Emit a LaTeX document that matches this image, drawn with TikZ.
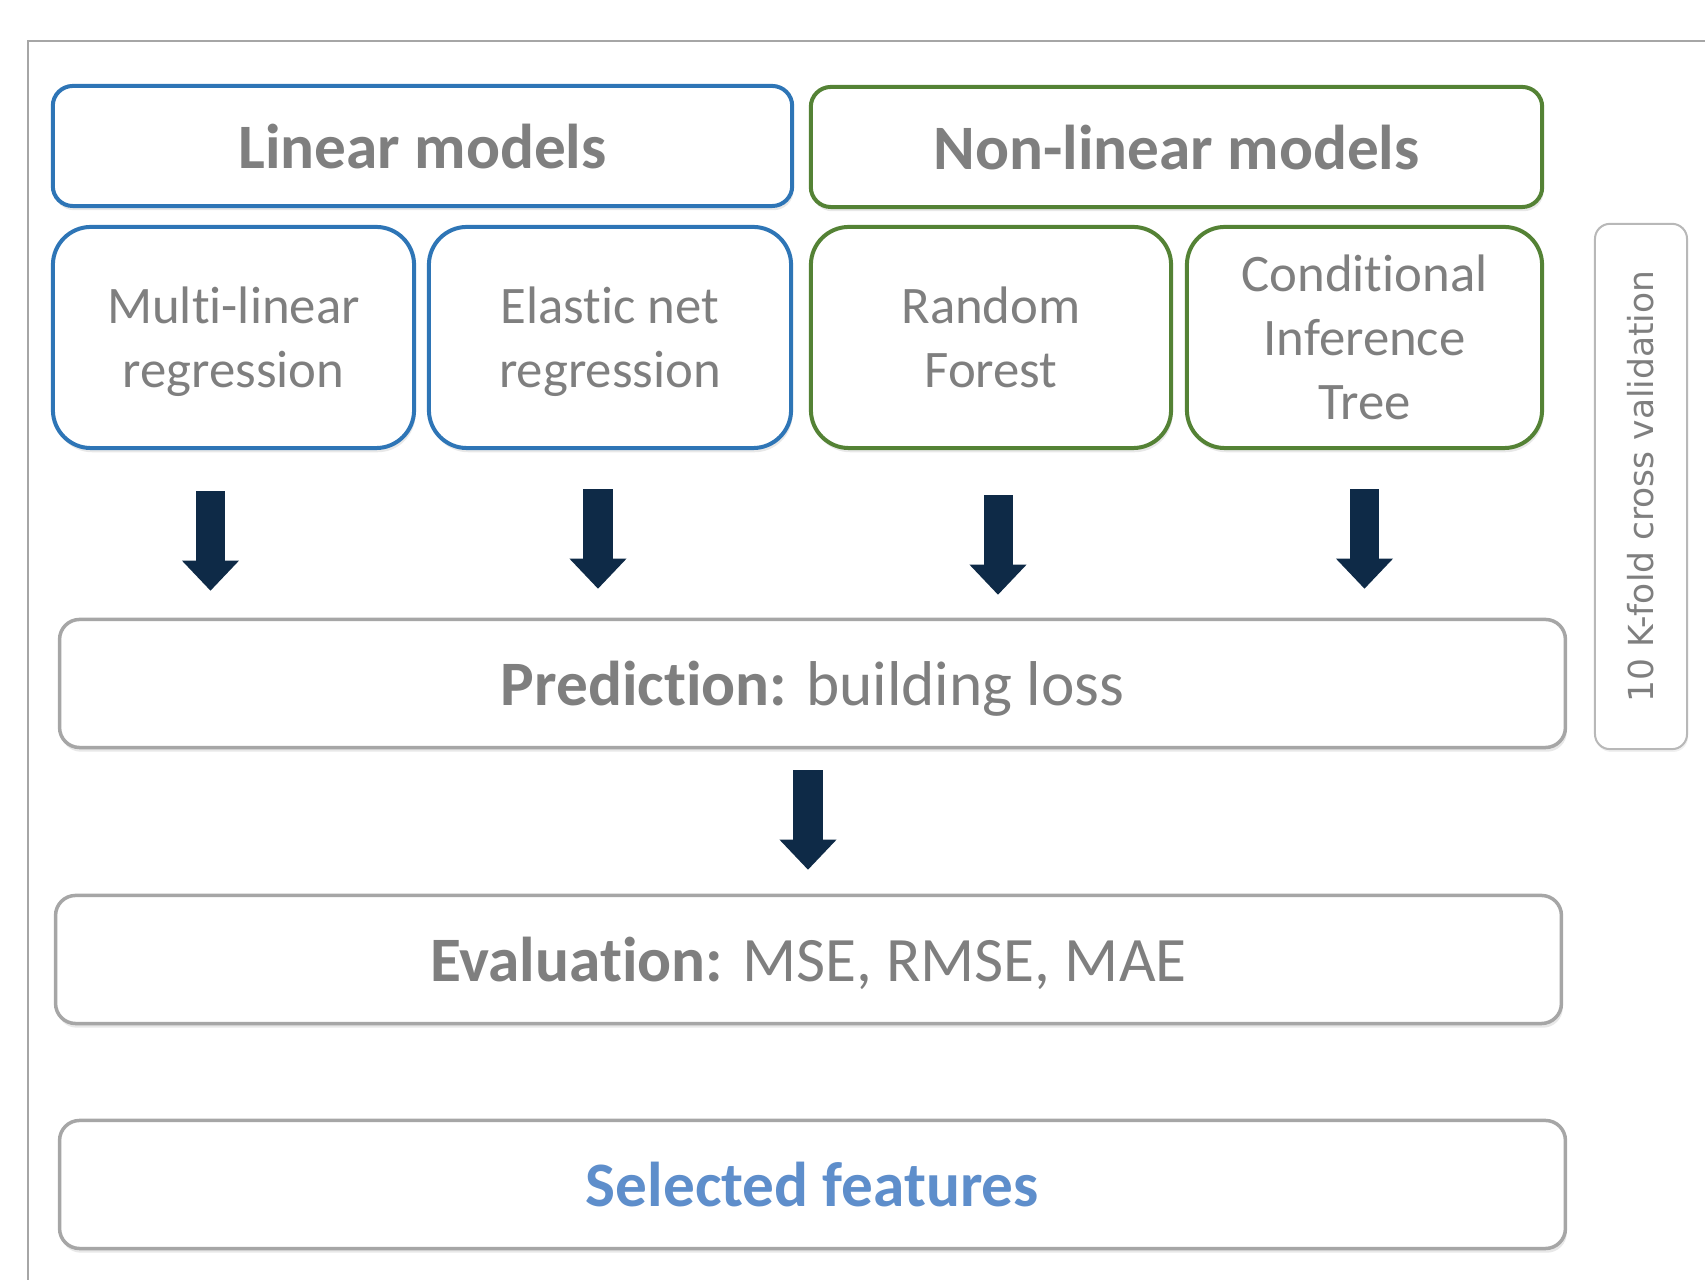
\documentclass[tikz,border=0pt]{standalone}
\usepackage{fontspec}
\setmainfont{Carlito}[Ligatures={NoCommon}]
\newfontfamily\kfoldfont{DejaVu Sans}
\usepackage{tikz}
\usetikzlibrary{arrows.meta,shadows}

\definecolor{linblue}{HTML}{2E75B6}
\definecolor{nlgreen}{HTML}{548235}
\definecolor{boxgray}{HTML}{A6A6A6}
\definecolor{txtgray}{HTML}{7F7F7F}
\definecolor{selblue}{HTML}{5E8ECB}
\definecolor{arrownavy}{HTML}{0E2A47}

\begin{document}
\begin{tikzpicture}[x=0.01cm,y=-0.01cm,
		box/.style={draw,rounded corners=0.2cm,line width=0.04cm,fill=white,text=txtgray,align=center,
			drop shadow={shadow xshift=0.4pt,shadow yshift=-1.2pt,opacity=0.18}},
		modelbox/.style={box,rounded corners=0.38cm,minimum height=2.21cm,text depth=-3pt,
			font=\fontsize{15}{18.2}\selectfont},
		headbox/.style={box,minimum height=1.2cm,text height=12.6pt,text depth=0pt,
			font=\fontsize{18}{22}\selectfont\bfseries},
		stagebox/.style={box,draw=boxgray,line width=0.035cm,minimum width=15.05cm,minimum height=1.28cm,
			text height=12.6pt,text depth=0pt,font=\fontsize{18}{22}\selectfont},
		kbox/.style={draw=boxgray!80,rounded corners=0.15cm,line width=0.02cm,fill=white,text=txtgray,
			drop shadow={shadow xshift=0.3pt,shadow yshift=-0.8pt,opacity=0.12},
			font=\kfoldfont\fontsize{9.8}{11}\selectfont},
		blockarrow/.style={draw=arrownavy,line width=0.29cm,
			-{Triangle[width=0.57cm,length=0.30cm,line width=0pt]}}]

		\useasboundingbox (0,0) rectangle (1705,1280);
		\draw[boxgray,line width=0.02cm] (28,1280) -- (28,41) -- (1705,41);

		\node[headbox,draw=linblue,minimum width=7.39cm] (Linear) at (422.5,146) {Linear models};
		\node[headbox,draw=nlgreen,minimum width=7.31cm] (NonLinear) at (1176.5,147) {Non-linear models};

		\node[modelbox,draw=linblue,minimum width=3.61cm] (MLR) at (233.5,337.5) {Multi-linear\\regression};
		\node[modelbox,draw=linblue,minimum width=3.62cm] (ENR) at (610,337.5) {Elastic net\\regression};
		\node[modelbox,draw=nlgreen,minimum width=3.60cm] (RF) at (991,337.5) {Random\\Forest};
		\node[modelbox,draw=nlgreen,minimum width=3.55cm] (CIT) at (1364.5,337.5) {Conditional\\Inference\\Tree};

		\node[kbox,rotate=90,minimum width=5.25cm,minimum height=0.92cm] (KFold) at (1641,486.5) {10 K-fold cross validation};

		\node[stagebox] (Pred) at (812.5,683.5) {\textbf{Prediction:} building loss};
		\node[stagebox] (Eval) at (808.5,959.5) {\textbf{Evaluation:} MSE, RMSE, MAE};
		\node[stagebox,text=selblue] (Sel) at (812.5,1184.5) {\textbf{Selected features}};

		\draw[blockarrow,shorten <=0.41cm,shorten >=0.27cm] ([xshift=-0.23cm]MLR.south) -- ([xshift=-0.23cm]MLR.south |- Pred.north);
		\draw[blockarrow,shorten <=0.39cm,shorten >=0.29cm] ([xshift=-0.12cm]ENR.south) -- ([xshift=-0.12cm]ENR.south |- Pred.north);
		\draw[blockarrow,shorten <=0.45cm,shorten >=0.23cm] ([xshift=0.07cm]RF.south) -- ([xshift=0.07cm]RF.south |- Pred.north);
		\draw[blockarrow,shorten <=0.39cm,shorten >=0.29cm] (CIT.south) -- (CIT.south |- Pred.north);
		\draw[blockarrow,shorten <=0.21cm,shorten >=0.24cm] ([xshift=-0.045cm]Pred.south) -- ([xshift=-0.045cm]Pred.south |- Eval.north);

\end{tikzpicture}
\end{document}
